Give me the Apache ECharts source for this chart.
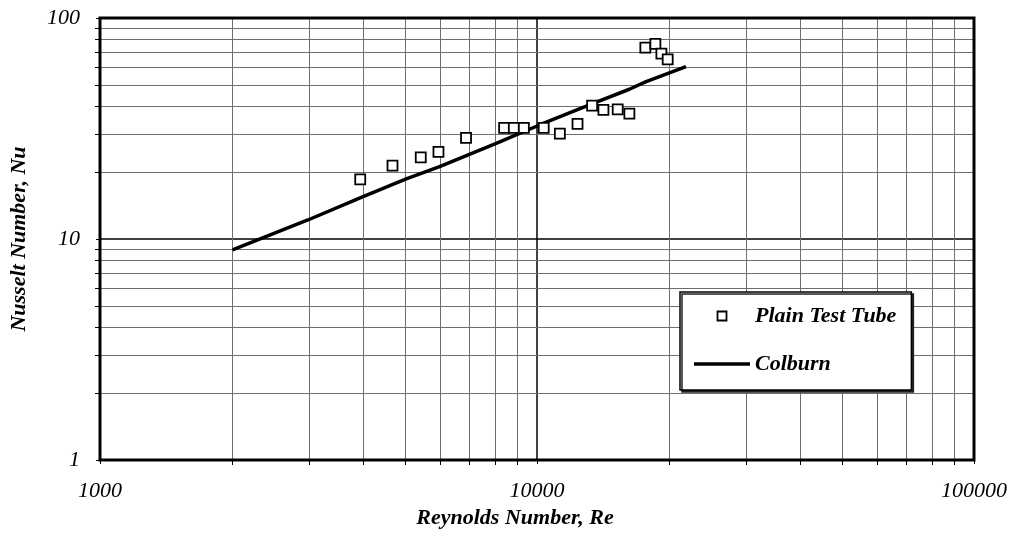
<!DOCTYPE html>
<html>
<head>
<meta charset="utf-8">
<script src="https://cdn.jsdelivr.net/npm/echarts@6/dist/echarts.min.js"></script>
<style>
html,body{margin:0;padding:0;background:#fff;}
#chart{width:1010px;height:538px;}
</style>
</head>
<body>
<div id="chart"></div>
<script>
// ---- data ----
const testRe = [3940, 4670, 5420, 5950, 6880, 8410, 8850, 9330, 10360, 11280, 12380, 13370, 14190, 15300, 16270, 17700, 18660, 19260, 19910];
const testNu = [18.6, 21.5, 23.4, 24.8, 28.7, 31.8, 31.8, 31.8, 31.8, 30.0, 33.2, 40.1, 38.4, 38.6, 36.9, 73.4, 76.3, 69.0, 65.0];
const colburnRe = [2010, 2990, 4000, 5020, 5985, 8066, 10130, 13180, 16270, 17770, 21930];
const colburnNu = [8.92, 12.19, 15.54, 18.69, 21.24, 27.1, 32.8, 40.4, 47.6, 51.5, 60.2];
const xTicks = [1000, 10000, 100000];
const yTicks = [1, 10, 100];
const xMinorGrid = [2000, 3000, 4000, 5000, 6000, 7000, 8000, 9000, 20000, 30000, 40000, 50000, 60000, 70000, 80000, 90000];
const yMinorGrid = [2, 3, 4, 5, 6, 7, 8, 9, 20, 30, 40, 50, 60, 70, 80, 90];
const seriesNames = ['Plain Test Tube', 'Colburn'];

const X_MIN = xTicks[0], X_MAX = xTicks[xTicks.length - 1];
const Y_MIN = yTicks[0], Y_MAX = yTicks[yTicks.length - 1];
const FONT = 'Liberation Serif';
const SQUARE = 'path://M0,0L10,0L10,10L0,10Z';
const BAR_ICON = 'path://M0,0L56,0L56,3.5L0,3.5Z';

function crisp(v) { return Math.round(v) + 0.5; }

const chart = echarts.init(document.getElementById('chart'), null, {renderer: 'canvas'});
chart.setOption({
  animation: false,
  backgroundColor: '#fff',
  grid: {left: 100, right: 35, top: 18, bottom: 78, containLabel: false},
  xAxis: {
    type: 'log', logBase: 10, min: X_MIN, max: X_MAX,
    name: 'Reynolds Number, Re', nameLocation: 'middle', nameGap: 46,
    nameTextStyle: {fontFamily: FONT, fontStyle: 'italic', fontWeight: 'bold', fontSize: 22, color: '#000', padding: [0, 44, 0, 0]},
    axisLine: {show: false},
    axisTick: {show: true, length: 4, lineStyle: {color: '#000', width: 1}},
    axisLabel: {fontFamily: FONT, fontStyle: 'italic', fontSize: 22, color: '#000', margin: 20, formatter: v => String(v)},
    splitLine: {show: true, lineStyle: {color: '#000', width: 1.5}},
    minorTick: {show: false}, minorSplitLine: {show: false}
  },
  yAxis: {
    type: 'log', logBase: 10, min: Y_MIN, max: Y_MAX,
    name: 'Nusselt Number, Nu', nameLocation: 'middle', nameGap: 70,
    nameTextStyle: {fontFamily: FONT, fontStyle: 'italic', fontWeight: 'bold', fontSize: 22, color: '#000'},
    axisLine: {show: false},
    axisTick: {show: true, length: 4, lineStyle: {color: '#000', width: 1}},
    axisLabel: {fontFamily: FONT, fontStyle: 'italic', fontSize: 22, color: '#000', margin: 20, formatter: v => String(v)},
    splitLine: {show: true, lineStyle: {color: '#000', width: 1.5}},
    minorTick: {show: false}, minorSplitLine: {show: false}
  },
  legend: {
    show: true, orient: 'vertical', left: 680, top: 292,
    padding: [12, 15, 14, 14], itemGap: 24,
    itemWidth: 56, itemHeight: 9,
    backgroundColor: '#fff', borderColor: '#000', borderWidth: 1.5,
    shadowColor: '#222', shadowOffsetX: 2, shadowOffsetY: 2, shadowBlur: 0,
    symbolKeepAspect: true,
    textStyle: {fontFamily: FONT, fontStyle: 'italic', fontWeight: 'bold', fontSize: 22, color: '#000', lineHeight: 24},
    data: [
      {name: seriesNames[0], icon: SQUARE, itemStyle: {color: '#fff', borderColor: '#000', borderWidth: 1.8}},
      {name: seriesNames[1], icon: BAR_ICON, itemStyle: {color: '#000', borderWidth: 0}}
    ]
  },
  series: [
    {
      type: 'custom', name: 'vgrid', silent: true, z: 1,
      data: xMinorGrid.map(v => [v, Y_MIN]),
      renderItem: function (params, api) {
        const x = api.value(0);
        const p1 = api.coord([x, Y_MIN]);
        const p2 = api.coord([x, Y_MAX]);
        const cx = crisp(p1[0]);
        return {type: 'group', children: [
          {type: 'line', shape: {x1: cx, y1: p1[1], x2: cx, y2: p2[1]}, style: {stroke: '#6e6e6e', lineWidth: 1}},
          {type: 'line', shape: {x1: cx, y1: p1[1], x2: cx, y2: p1[1] + 5}, style: {stroke: '#000', lineWidth: 1}}
        ]};
      }
    },
    {
      type: 'custom', name: 'hgrid', silent: true, z: 1,
      data: yMinorGrid.map(v => [X_MIN, v]),
      renderItem: function (params, api) {
        const y = api.value(1);
        const p1 = api.coord([X_MIN, y]);
        const p2 = api.coord([X_MAX, y]);
        const cy = crisp(p1[1]);
        return {type: 'group', children: [
          {type: 'line', shape: {x1: p1[0], y1: cy, x2: p2[0], y2: cy}, style: {stroke: '#6e6e6e', lineWidth: 1}},
          {type: 'line', shape: {x1: p1[0] - 5, y1: cy, x2: p1[0], y2: cy}, style: {stroke: '#000', lineWidth: 1}}
        ]};
      }
    },
    {
      type: 'line', name: seriesNames[1], z: 3,
      data: colburnRe.map((r, i) => [r, colburnNu[i]]),
      showSymbol: false, symbol: 'none', smooth: false,
      lineStyle: {color: '#000', width: 3.5},
      itemStyle: {color: '#000'}
    },
    {
      type: 'scatter', name: seriesNames[0], z: 4,
      data: testRe.map((r, i) => [r, testNu[i]]),
      symbol: SQUARE, symbolSize: 10,
      itemStyle: {color: '#fff', borderColor: '#000', borderWidth: 1.8, opacity: 1}
    },
    {
      type: 'custom', name: 'frame', silent: true, z: 10,
      data: [[X_MIN, Y_MIN]],
      renderItem: function (params, api) {
        const a = api.coord([X_MIN, Y_MAX]);
        const b = api.coord([X_MAX, Y_MIN]);
        return {type: 'rect', shape: {x: a[0], y: a[1], width: b[0] - a[0], height: b[1] - a[1]},
                style: {fill: null, stroke: '#000', lineWidth: 3}};
      }
    }
  ]
});
</script>
</body>
</html>
